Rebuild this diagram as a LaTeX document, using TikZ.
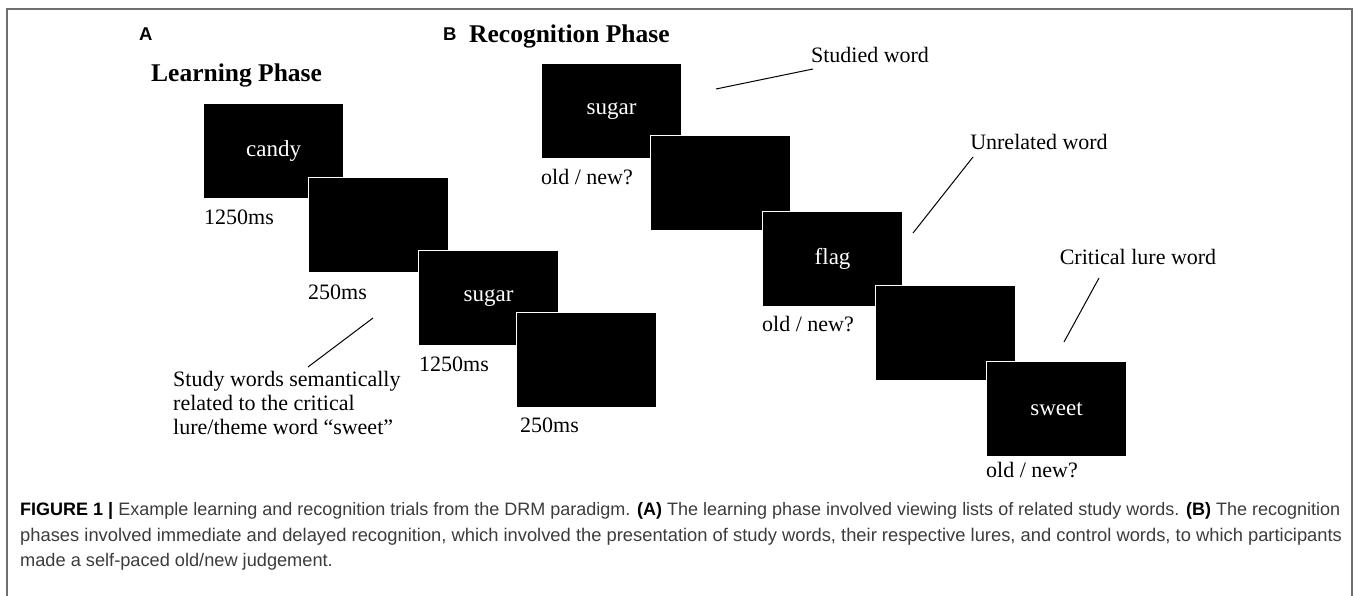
\documentclass[tikz,border=0pt]{standalone}
\usepackage{fontspec}
\setmainfont{Liberation Serif}
\setsansfont{Liberation Sans}
\definecolor{framegray}{RGB}{110,110,110}
\definecolor{captext}{RGB}{60,60,60}
\tikzset{
  stim/.style={fill=black, draw=white, line width=1.2pt, minimum width=140pt, minimum height=95pt,
    anchor=north west, inner sep=0pt, text=white, font=\fontsize{23}{27}\selectfont},
  lbl/.style={anchor=west, inner sep=0pt, font=\fontsize{22}{26}\selectfont},
  head/.style={anchor=west, inner sep=0pt, font=\bfseries\fontsize{25.5}{30}\selectfont},
  panel/.style={anchor=west, inner sep=0pt, font=\sffamily\bfseries\fontsize{18.5}{22}\selectfont},
  captionline/.style={anchor=west, inner sep=0pt, text=captext, font=\sffamily\fontsize{#1}{21}\selectfont},
  pointer/.style={draw=black, line width=1pt}
}
\begin{document}
\begin{tikzpicture}[x=1pt,y=-1pt]
\useasboundingbox (0,0) rectangle (1358,596);
\fill[white] (0,0) rectangle (1358,596);
\draw[framegray, line width=1.5pt] (7,600) -- (7,9) -- (1352,9) -- (1352,600);

% panel letters and headings
\node[panel] (pA) at (139,34) {A};
\node[panel] (pB) at (443,34) {B};
\node[head] (hRec) at (469,36) {Recognition Phase};
\node[head] (hLearn) at (151,75) {Learning Phase};

% learning phase stimuli
\node[stim] (L1) at (203,103) {candy};
\node[stim] (L2) at (308,177) {};
\node[stim] (L3) at (418,250) {sugar};
\node[stim] (L4) at (516,312) {};

\node[lbl] (t1) at (204,217) {1250ms};
\node[lbl] (t2) at (308,292) {250ms};
\node[lbl] (t3) at (419,364) {1250ms};
\node[lbl] (t4) at (520,425) {250ms};

\node[lbl, align=left, font=\fontsize{22}{23.8}\selectfont, anchor=north west] (study) at (173,371)
  {Study words semantically\\related to the critical\\lure/theme word “sweet”};
\coordinate (sA) at (373,318);
\coordinate (sB) at (308,367);
\draw[pointer] (sA) -- (sB);

% recognition phase stimuli
\node[stim] (R1) at (541,63) {sugar};
\node[stim] (R2) at (650,135) {};
\node[stim] (R3) at (762,211) {flag};
\node[stim] (R4) at (875,285) {};
\node[stim] (R5) at (986,361) {sweet};

\node[lbl] (o1) at (541,177) {old / new?};
\node[lbl] (o3) at (762,324) {old / new?};
\node[lbl] (o5) at (986,470) {old / new?};

\node[lbl, anchor=center] (studied) at (870,55) {Studied word};
\node[lbl, anchor=center] (unrel) at (1039,142) {Unrelated word};
\node[lbl, anchor=center] (crit) at (1138,257) {Critical lure word};

\coordinate (p1a) at (813,69);  \coordinate (p1b) at (716,89);
\coordinate (p2a) at (973,157); \coordinate (p2b) at (913,233);
\coordinate (p3a) at (1099,278); \coordinate (p3b) at (1064,342);
\draw[pointer] (p1a) -- (p1b);
\draw[pointer] (p2a) -- (p2b);
\draw[pointer] (p3a) -- (p3b);

% caption
\node[captionline=18.0] (c1) at (20,511) {\textcolor{black}{\textbf{FIGURE 1 |}} Example learning and recognition trials from the DRM paradigm. \textcolor{black}{\textbf{(A)}} The learning phase involved viewing lists of related study words. \textcolor{black}{\textbf{(B)}} The recognition};
\node[captionline=18.35] (c2) at (20,537) {phases involved immediate and delayed recognition, which involved the presentation of study words, their respective lures, and control words, to which participants};
\node[captionline=18.2] (c3) at (20,562) {made a self-paced old/new judgement.};
\end{tikzpicture}
\end{document}
